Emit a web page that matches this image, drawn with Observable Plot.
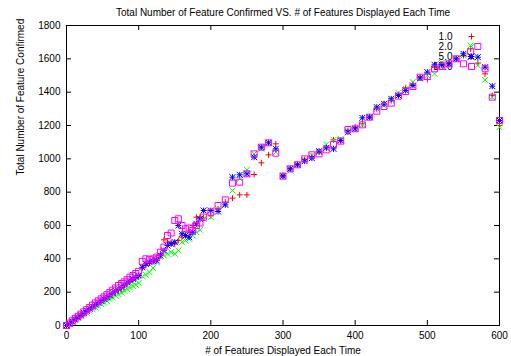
<!DOCTYPE html>
<html><head><meta charset="utf-8">
<script src="https://cdn.jsdelivr.net/npm/d3@7"></script>
<script src="https://cdn.jsdelivr.net/npm/@observablehq/plot@0.6"></script>
<style>body{margin:0;background:#fff;}</style>
</head><body><div id="chart"></div>
<script>
const titleText = "Total Number of Feature Confirmed VS. # of Features Displayed Each Time";
const xLabel = "# of Features Displayed Each Time";
const yLabel = "Total Number of Feature Confirmed";
const seriesNames = ["1.0", "2.0", "5.0", "10.0"];
const xTicks = [0, 100, 200, 300, 400, 500, 600];
const yTicks = [0, 200, 400, 600, 800, 1000, 1200, 1400, 1600, 1800];

const xs = [0,4,8,12,16,20,24,28,32,36,40,44,48,52,56,60,64,68,72,76,80,84,88,92,96,100,
  105,110,115,120,125,130,135,140,145,150,155,160,165,170,175,180,185,
  190,200,210,220,230,240,250,260,270,280,290,300,310,320,330,340,350,360,370,380,390,400,
  410,420,430,440,450,460,470,480,490,500,510,520,530,540,550,560,570,580,590,600];

const y1 = [0,12,24,36,48,60,72,84,96,108,120,132,144,155,167,178,190,202,214,226,238,250,262,274,286,298,
  345,360,375,395,410,430,514,500,495,490,510,530,540,560,600,650,650,
  645,658,700,740,764,784,784,906,976,1024,1090,900,940,964,995,1015,1040,1070,1114,1110,1170,1190,
  1210,1250,1300,1330,1350,1385,1426,1450,1490,1476,1550,1565,1575,1600,1620,1660,1574,1510,1380,1200];

const y2 = [0,11,22,33,44,55,66,77,88,98,108,118,128,138,148,158,168,178,188,198,208,218,228,238,245,255,
  294,305,320,345,380,410,420,430,440,430,450,500,510,520,540,560,574,
  640,650,700,730,810,880,934,1030,1060,1096,1040,900,930,964,995,1020,1040,1086,1114,1120,1170,1180,
  1204,1250,1300,1320,1350,1396,1420,1460,1480,1500,1510,1576,1570,1600,1620,1680,1560,1474,1370,1190];

const y5 = [0,12,25,38,50,62,75,88,100,112,125,137,148,160,170,182,195,208,220,232,245,258,270,280,290,300,
  350,370,380,385,390,420,450,480,490,500,600,550,540,530,560,610,640,
  690,690,684,724,890,904,910,1010,1070,1096,1060,896,940,964,986,1004,1046,1066,1060,1110,1160,1180,
  1246,1250,1310,1330,1360,1380,1410,1440,1485,1520,1564,1565,1570,1600,1630,1614,1610,1550,1436,1230];

const y10 = [0,14,28,42,55,68,82,95,108,122,135,148,160,172,185,198,212,225,240,252,262,275,290,300,312,325,
  385,400,395,400,410,440,470,540,555,630,640,600,580,585,570,600,615,
  650,680,720,754,854,860,910,1030,1070,1096,1034,896,940,964,1000,1024,1030,1054,1086,1106,1176,1180,
  1204,1250,1286,1314,1334,1376,1404,1434,1490,1494,1540,1554,1570,1600,1570,1644,1674,1540,1370,1230];

const seriesValues = [y1, y2, y5, y10];
const colors = ["#ff0000", "#00ff00", "#0000ff", "#ff00ff"];

const R = 3;
const symPlus = {draw(c){c.moveTo(-R,0);c.lineTo(R,0);c.moveTo(0,-R);c.lineTo(0,R);}};
const symTimes = {draw(c){c.moveTo(-R,-R);c.lineTo(R,R);c.moveTo(-R,R);c.lineTo(R,-R);}};
const symStar = {draw(c){c.moveTo(-R,0);c.lineTo(R,0);c.moveTo(0,-R);c.lineTo(0,R);c.moveTo(-R,-R);c.lineTo(R,R);c.moveTo(-R,R);c.lineTo(R,-R);}};
const symSquare = {draw(c){c.rect(-R,-R,2*R,2*R);}};
const symbols = [symPlus, symTimes, symStar, symSquare];

const marks = [];
// ticks inward on all four sides
marks.push(Plot.tickX(xTicks, {x: d => d, insetTop: 295, stroke: "black"}));
marks.push(Plot.tickX(xTicks, {x: d => d, insetBottom: 295, stroke: "black"}));
marks.push(Plot.tickY(yTicks, {y: d => d, insetRight: 428, stroke: "black"}));
marks.push(Plot.tickY(yTicks, {y: d => d, insetLeft: 428, stroke: "black"}));
marks.push(Plot.axisX({ticks: xTicks, tickSize: 0, tickPadding: 6, label: null, tickFormat: d => String(d)}));
marks.push(Plot.axisY({ticks: yTicks, tickSize: 0, tickPadding: 6, label: null, tickFormat: d => String(d)}));
marks.push(Plot.frame({stroke: "black"}));
// legend text
seriesNames.forEach((n, i) => {
  marks.push(Plot.text([n], {frameAnchor: "top-right", dx: -47, dy: 11.7 + 10 * i, textAnchor: "end", lineAnchor: "middle", fill: "black"}));
});
// data
seriesValues.forEach((vals, i) => {
  const rows = xs.map((x, j) => ({x, y: vals[j]})).filter(d => d.y != null);
  marks.push(Plot.dot(rows, {x: "x", y: "y", symbol: symbols[i], r: 3, stroke: colors[i], fill: "none", strokeWidth: 1}));
});
// legend samples
seriesNames.forEach((n, i) => {
  marks.push(Plot.dot([n], {frameAnchor: "top-right", dx: -28, dy: 11 + 10 * i, symbol: symbols[i], r: 3, stroke: colors[i], fill: "none", strokeWidth: 1}));
});
marks.push(Plot.text([titleText], {frameAnchor: "top", dy: -13, lineAnchor: "middle", fill: "black"}));
marks.push(Plot.text([xLabel], {frameAnchor: "bottom", dy: 25, lineAnchor: "middle", fill: "black"}));
marks.push(Plot.text([yLabel], {frameAnchor: "left", dx: -46, rotate: -90, lineAnchor: "middle", fill: "black"}));

const chart = Plot.plot({
  width: 511, height: 356,
  marginLeft: 66, marginRight: 12, marginTop: 25, marginBottom: 31,
  style: {fontFamily: "'Liberation Sans', Arial, sans-serif", fontSize: "10px", background: "white", color: "black"},
  x: {domain: [0, 600]},
  y: {domain: [0, 1800]},
  marks
});
document.getElementById("chart").appendChild(chart);
</script>
</body></html>
